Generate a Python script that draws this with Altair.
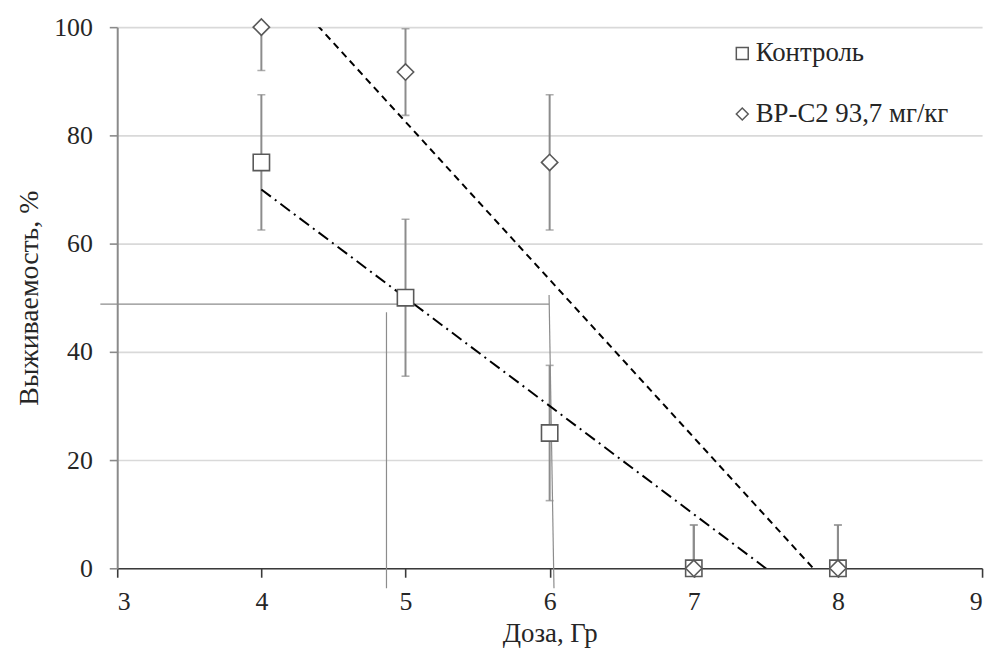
import altair as alt
import pandas as pd

# ---- data ----
dose = [4, 5, 6, 7, 8]
control = [75, 50, 25, 0, 0]
control_err = [12.5, 14.5, 12.5, 8, 8]
drug = [100, 91.7, 75, 0, 0]
drug_err = [8, 8, 12.5, 8, 8]
series_names = ["Контроль", "BP-C2 93,7 мг/кг"]

# hand-drawn guide lines (x, y pairs)
guide_h_x = [2.883, 5.996]
guide_h_y = [48.8, 48.8]
guide_v1_x = [4.868, 4.868]
guide_v1_y = [47.3, -3.7]
guide_v2_x = [5.996, 6.03]
guide_v2_y = [50.5, -3.7]

x_ticks = [3, 4, 5, 6, 7, 8, 9]
y_ticks = [0, 20, 40, 60, 80, 100]

FONT = "Liberation Serif"
TXT = "#262626"
MARK = "#595959"

rows = []
for name, vals, errs in ((series_names[0], control, control_err), (series_names[1], drug, drug_err)):
    for d, v, e in zip(dose, vals, errs):
        rows.append({"series": name, "dose": d, "value": v, "lo": v - e, "hi": v + e})
df = pd.DataFrame(rows)

guides = pd.DataFrame(
    [{"g": "h", "x": x, "y": y} for x, y in zip(guide_h_x, guide_h_y)]
    + [{"g": "v1", "x": x, "y": y} for x, y in zip(guide_v1_x, guide_v1_y)]
    + [{"g": "v2", "x": x, "y": y} for x, y in zip(guide_v2_x, guide_v2_y)]
)

x_scale = alt.Scale(domain=[3, 9], nice=False, zero=False)
y_scale = alt.Scale(domain=[0, 100], nice=False)

x_axis = alt.Axis(
    values=x_ticks, format="d", title="Доза, Гр", grid=False, domainColor="#3a3a3a", domainWidth=1.6,
    tickColor="#3a3a3a", tickWidth=1.6, tickSize=9, labelPadding=12, titlePadding=6, titleFontSize=27,
)
y_axis = alt.Axis(
    values=y_ticks, title="Выживаемость, %", grid=True, gridColor="#d9d9d9", gridWidth=1.6,
    domainColor="#8a8a8a", domainWidth=2, tickColor="#8a8a8a", tickWidth=1.6, tickSize=8,
    labelPadding=17, titlePadding=10, titleFontSize=28,
)

base = alt.Chart(df)

guide_lines = alt.Chart(guides).mark_line(color="#8c8c8c", strokeWidth=1.2, clip=False).encode(
    x=alt.X("x:Q", scale=x_scale, axis=x_axis),
    y=alt.Y("y:Q", scale=y_scale, axis=y_axis),
    detail="g:N",
)

err_rules = base.mark_rule(color="#8c8c8c", strokeWidth=2, clip=True).encode(
    x=alt.X("dose:Q", scale=x_scale),
    y=alt.Y("lo:Q", scale=y_scale),
    y2="hi:Q",
)
cap_hi = base.mark_tick(color="#8c8c8c", orient="horizontal", size=8, thickness=1.6, clip=True).encode(
    x=alt.X("dose:Q", scale=x_scale), y=alt.Y("hi:Q", scale=y_scale)
)
cap_lo = base.mark_tick(color="#8c8c8c", orient="horizontal", size=8, thickness=1.6, clip=True).encode(
    x=alt.X("dose:Q", scale=x_scale), y=alt.Y("lo:Q", scale=y_scale)
)


def trend_layer(name, dash):
    return base.transform_filter(
        alt.datum.series == name
    ).transform_regression("dose", "value", extent=[4, 8]).mark_line(
        color="black", strokeWidth=2, clip=True, strokeDash=dash
    ).encode(
        x=alt.X("dose:Q", scale=x_scale),
        y=alt.Y("value:Q", scale=y_scale),
    )


trend_control = trend_layer(series_names[0], [12, 5, 2, 5])
trend_drug = trend_layer(series_names[1], [7, 5])

legend = alt.Legend(
    title=None, orient="none", legendX=616, legendY=13, labelFont=FONT, labelFontSize=27,
    labelColor=TXT, labelLimit=0, symbolFillColor="white", symbolStrokeWidth=1.5,
    symbolSize=144, rowPadding=33, labelOffset=0, padding=0,
)

points = base.mark_point(
    filled=False, fill="white", fillOpacity=1, strokeWidth=1.6, opacity=1, size=270
).encode(
    x=alt.X("dose:Q", scale=x_scale),
    y=alt.Y("value:Q", scale=y_scale),
    color=alt.Color("series:N", scale=alt.Scale(domain=series_names, range=[MARK, MARK]), legend=legend),
    shape=alt.Shape("series:N", scale=alt.Scale(domain=series_names, range=["square", "diamond"]), legend=legend),
)

chart = alt.layer(
    guide_lines, err_rules, cap_hi, cap_lo, trend_control, trend_drug, points
).properties(
    width=871, height=545,
    autosize=alt.AutoSizeParams(type="none"),
    padding={"left": 110, "top": 17, "right": 10, "bottom": 80},
).configure_view(stroke=None).configure_axis(
    labelFont=FONT, titleFont=FONT, labelFontSize=26, labelColor=TXT, titleColor=TXT,
    titleFontWeight="normal",
)

chart.save("out.html", embed_options={"renderer": "svg", "actions": False})
